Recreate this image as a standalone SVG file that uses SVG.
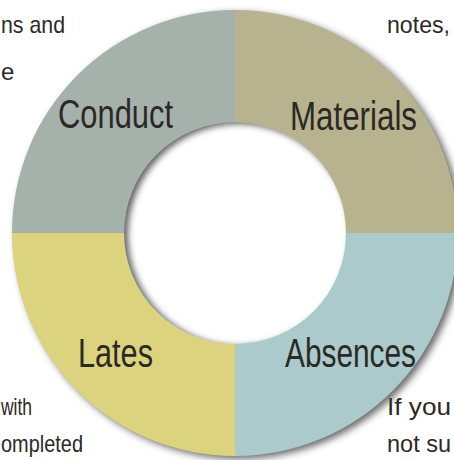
<svg xmlns="http://www.w3.org/2000/svg" width="454" height="460" viewBox="0 0 454 460">
  <defs>
    <filter id="blur" x="-20%" y="-20%" width="140%" height="140%">
      <feGaussianBlur stdDeviation="3.5"/>
    </filter>
    <filter id="blurIn" x="-20%" y="-20%" width="140%" height="140%">
      <feGaussianBlur stdDeviation="3"/>
    </filter>
    <clipPath id="hole">
      <circle cx="235" cy="233" r="111"/>
    </clipPath>
  </defs>
  <style>
    .lbl { font-family: "Liberation Sans Narrow", "Liberation Sans", sans-serif; font-size: 40px; fill: #2b2925; }
    .side { font-family: "Liberation Sans Narrow", "Liberation Sans", sans-serif; font-size: 24px; fill: #2b2925; }
  </style>
  <rect width="454" height="460" fill="#ffffff"/>

  <!-- side texts -->
  <text class="side" x="1" y="33" textLength="64" lengthAdjust="spacingAndGlyphs">ns and</text>
  <text class="side" x="1" y="80">e</text>
  <text class="side" x="387" y="33" textLength="63" lengthAdjust="spacingAndGlyphs">notes,</text>
  <text class="side" x="1" y="415" textLength="31" lengthAdjust="spacingAndGlyphs">with</text>
  <text class="side" x="1" y="452" textLength="82" lengthAdjust="spacingAndGlyphs">ompleted</text>
  <text class="side" x="387" y="415" textLength="64" lengthAdjust="spacingAndGlyphs">If you</text>
  <text class="side" x="387" y="452" textLength="64" lengthAdjust="spacingAndGlyphs">not su</text>

  <!-- outer drop shadow -->
  <circle cx="239" cy="236" r="223" fill="#3a3a3a" opacity="0.75" filter="url(#blur)"/>

  <g id="conduct">
    <path d="M235,233 L12,233 A223,223 0 0 1 235,10 Z" fill="#a5b1ab"/>
    <text class="lbl" x="58" y="128" textLength="115" lengthAdjust="spacingAndGlyphs">Conduct</text>
  </g>
  <g id="materials">
    <path d="M235,233 L235,10 A223,223 0 0 1 458,233 Z" fill="#b8b38f"/>
    <text class="lbl" x="290" y="130" textLength="127" lengthAdjust="spacingAndGlyphs">Materials</text>
  </g>
  <g id="absences">
    <path d="M235,233 L458,233 A223,223 0 0 1 235,456 Z" fill="#abcacb"/>
    <text class="lbl" x="285" y="367" textLength="131" lengthAdjust="spacingAndGlyphs">Absences</text>
  </g>
  <g id="lates">
    <path d="M235,233 L235,456 A223,223 0 0 1 12,233 Z" fill="#dbd37e"/>
    <text class="lbl" x="78" y="367" textLength="75" lengthAdjust="spacingAndGlyphs">Lates</text>
  </g>

  <!-- center hole with inset shadow -->
  <g id="hole-center">
    <circle cx="235" cy="233" r="111" fill="#ffffff"/>
    <g clip-path="url(#hole)">
      <circle cx="239" cy="235" r="126" fill="none" stroke="#3a3a3a" stroke-width="30" opacity="0.8" filter="url(#blurIn)"/>
    </g>
  </g>
</svg>
